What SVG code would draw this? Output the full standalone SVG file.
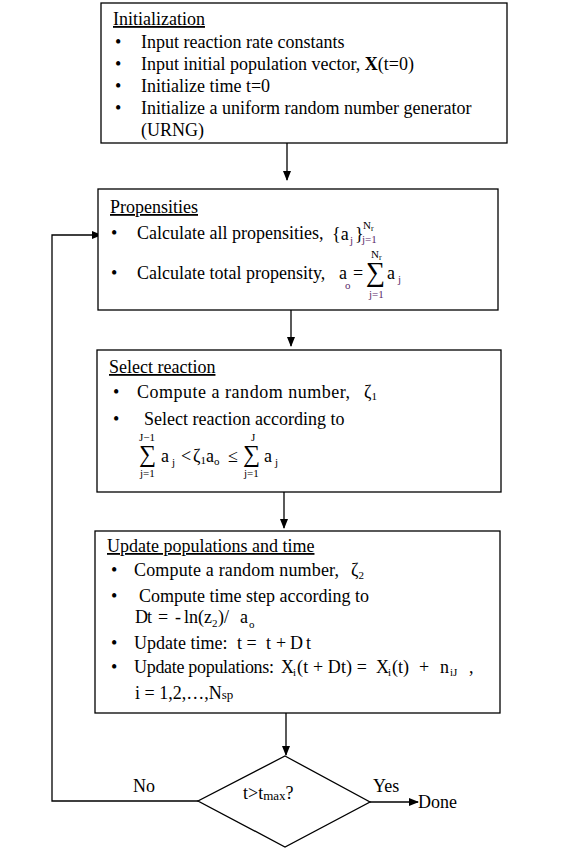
<svg xmlns="http://www.w3.org/2000/svg" width="583" height="854" viewBox="0 0 583 854">
<defs>
<style>
.t{font-family:"Liberation Serif","Times New Roman",serif;font-size:18px;fill:#000}
.s{font-family:"Liberation Serif","Times New Roman",serif;font-size:11px;fill:#000}
.p{fill:#5a2a6a}
.sum{font-family:"Liberation Serif","DejaVu Serif",serif;fill:#000}
.u{text-decoration:underline}
.box{fill:#fff;stroke:#000;stroke-width:1.3}
.ln{fill:none;stroke:#000;stroke-width:1.3}
</style>
<marker id="ah" markerWidth="10" markerHeight="8" refX="9" refY="4" orient="auto" markerUnits="userSpaceOnUse">
<path d="M0,0 L10,4 L0,8 Z" fill="#000"/>
</marker>
</defs>
<rect width="583" height="854" fill="#fff"/>

<g id="connectors">
<line class="ln" x1="287" y1="143" x2="287" y2="180" marker-end="url(#ah)"/>
<line class="ln" x1="291" y1="310" x2="291" y2="346" marker-end="url(#ah)"/>
<line class="ln" x1="284" y1="492" x2="284" y2="528" marker-end="url(#ah)"/>
<line class="ln" x1="286" y1="713" x2="286" y2="755" marker-end="url(#ah)"/>
<polyline class="ln" points="198,801 52,801 52,235 101,235" marker-end="url(#ah)"/>
<line class="ln" x1="370" y1="802" x2="418" y2="802" marker-end="url(#ah)"/>
<text class="t" x="133" y="792">No</text>
<text class="t" x="373" y="792">Yes</text>
<text class="t" x="418" y="808">Done</text>
</g>

<g id="init">
<rect class="box" x="101" y="3" width="406" height="140"/>
<text class="t u" x="113" y="25">Initialization</text>
<g class="t">
<text x="115" y="48">•</text><text x="141" y="48">Input reaction rate constants</text>
<text x="115" y="70">•</text><text x="141" y="70">Input initial population vector, <tspan font-weight="bold">X</tspan>(t=0)</text>
<text x="115" y="92">•</text><text x="141" y="92">Initialize time t=0</text>
<text x="115" y="114">•</text><text x="141" y="114">Initialize a uniform random number generator</text>
<text x="141" y="136">(URNG)</text>
</g>
</g>

<g id="propensities">
<rect class="box" x="98" y="189" width="400" height="121"/>
<text class="t u" x="110" y="213">Propensities</text>
<text class="t" x="111" y="239">•</text>
<text class="t" x="137" y="239">Calculate all propensities,</text>
<text class="t" x="332" y="240">{a</text>
<text class="s p" x="350" y="244">j</text>
<text class="t" x="355" y="240">}</text>
<text class="s" x="363" y="229">N<tspan font-size="8" dy="2">r</tspan></text>
<text class="s p" x="362" y="243">j=1</text>
<text class="t" x="111" y="279">•</text>
<text class="t" x="137" y="279">Calculate total propensity,</text>
<text class="t" x="339" y="279">a</text>
<text class="s p" x="345" y="289" font-size="8">o</text>
<text class="t" x="353" y="279">=</text>
<text class="sum" x="366" y="281" font-size="27">∑</text>
<text class="s" x="371" y="258">N<tspan font-size="8" dy="2">r</tspan></text>
<text class="s p" x="369" y="298">j=1</text>
<text class="t" x="387" y="279">a</text>
<text class="s p" x="398" y="283">j</text>
</g>

<g id="select">
<rect class="box" x="97" y="350" width="404" height="142"/>
<text class="t u" x="109" y="373">Select reaction</text>
<text class="t" x="113" y="398">•</text>
<text class="t" x="137" y="398" textLength="213">Compute a random number,</text>
<text class="t" x="364" y="398">ζ<tspan class="s" dy="2">1</tspan></text>
<text class="t" x="113" y="425">•</text>
<text class="t" x="144" y="425">Select reaction according to</text>
<text class="s" x="139" y="441">J−1</text>
<text class="sum" x="139" y="462" font-size="24">∑</text>
<text class="s" x="140" y="477">j=1</text>
<text class="t" x="161" y="462">a</text>
<text class="s" x="172" y="466">j</text>
<text class="t" x="181" y="462">&lt;</text>
<text class="t" x="193" y="462">ζ<tspan class="s" dy="2">1</tspan><tspan dy="-2">a</tspan><tspan class="s" dy="3" font-size="9">o</tspan></text>
<text class="t" x="228" y="462">≤</text>
<text class="sum" x="243" y="462" font-size="24">∑</text>
<text class="s" x="251" y="441">J</text>
<text class="s" x="244" y="477">j=1</text>
<text class="t" x="264" y="462">a</text>
<text class="s" x="275" y="466">j</text>
</g>

<g id="update">
<rect class="box" x="95" y="531" width="405" height="182"/>
<text class="t u" x="107" y="552">Update populations and time</text>
<text class="t" x="111" y="576">•</text>
<text class="t" x="134" y="576" textLength="205">Compute a random number,</text>
<text class="t" x="351" y="576">ζ<tspan class="s" dy="3">2</tspan></text>
<text class="t" x="111" y="602">•</text>
<text class="t" x="139" y="602">Compute time step according to</text>
<text class="t" x="135" y="623">D</text>
<text class="t" x="147" y="623">t</text>
<text class="t" x="158" y="623">=</text>
<text class="t" x="175" y="623">-</text>
<text class="t" x="184" y="623">ln(z</text>
<text class="s" x="212" y="627">2</text>
<text class="t" x="218" y="623">)/</text>
<text class="t" x="240" y="623">a</text>
<text class="s" x="249" y="628" font-size="9">o</text>
<text class="t" x="111" y="649">•</text>
<text class="t" x="134" y="649">Update time:</text>
<text class="t" x="237" y="649">t =</text>
<text class="t" x="266" y="649">t</text>
<text class="t" x="276" y="649">+</text>
<text class="t" x="290" y="649">D</text>
<text class="t" x="306" y="649">t</text>
<text class="t" x="111" y="673">•</text>
<text class="t" x="134" y="673" textLength="140">Update populations:</text>
<text class="t" x="281" y="673">X</text>
<text class="s" x="293" y="676">i</text>
<text class="t" x="297" y="673" textLength="70">(t + Dt) =</text>
<text class="t" x="376" y="673">X</text>
<text class="s" x="388" y="676">i</text>
<text class="t" x="392" y="673">(t)</text>
<text class="t" x="419" y="673">+</text>
<text class="t" x="440" y="673">n</text>
<text class="s" x="450" y="676">iJ</text>
<text class="t" x="469" y="673">,</text>
<text class="t" x="135" y="699">i = 1,2,…,N<tspan font-size="13">sp</tspan></text>
</g>

<g id="decision">
<polygon class="box" points="285,756 370,802 285,847 198,801"/>
<text class="t" x="243" y="799" font-size="15">t&gt;t<tspan font-size="13" dy="1">max</tspan><tspan dy="-1">?</tspan></text>
</g>
</svg>
